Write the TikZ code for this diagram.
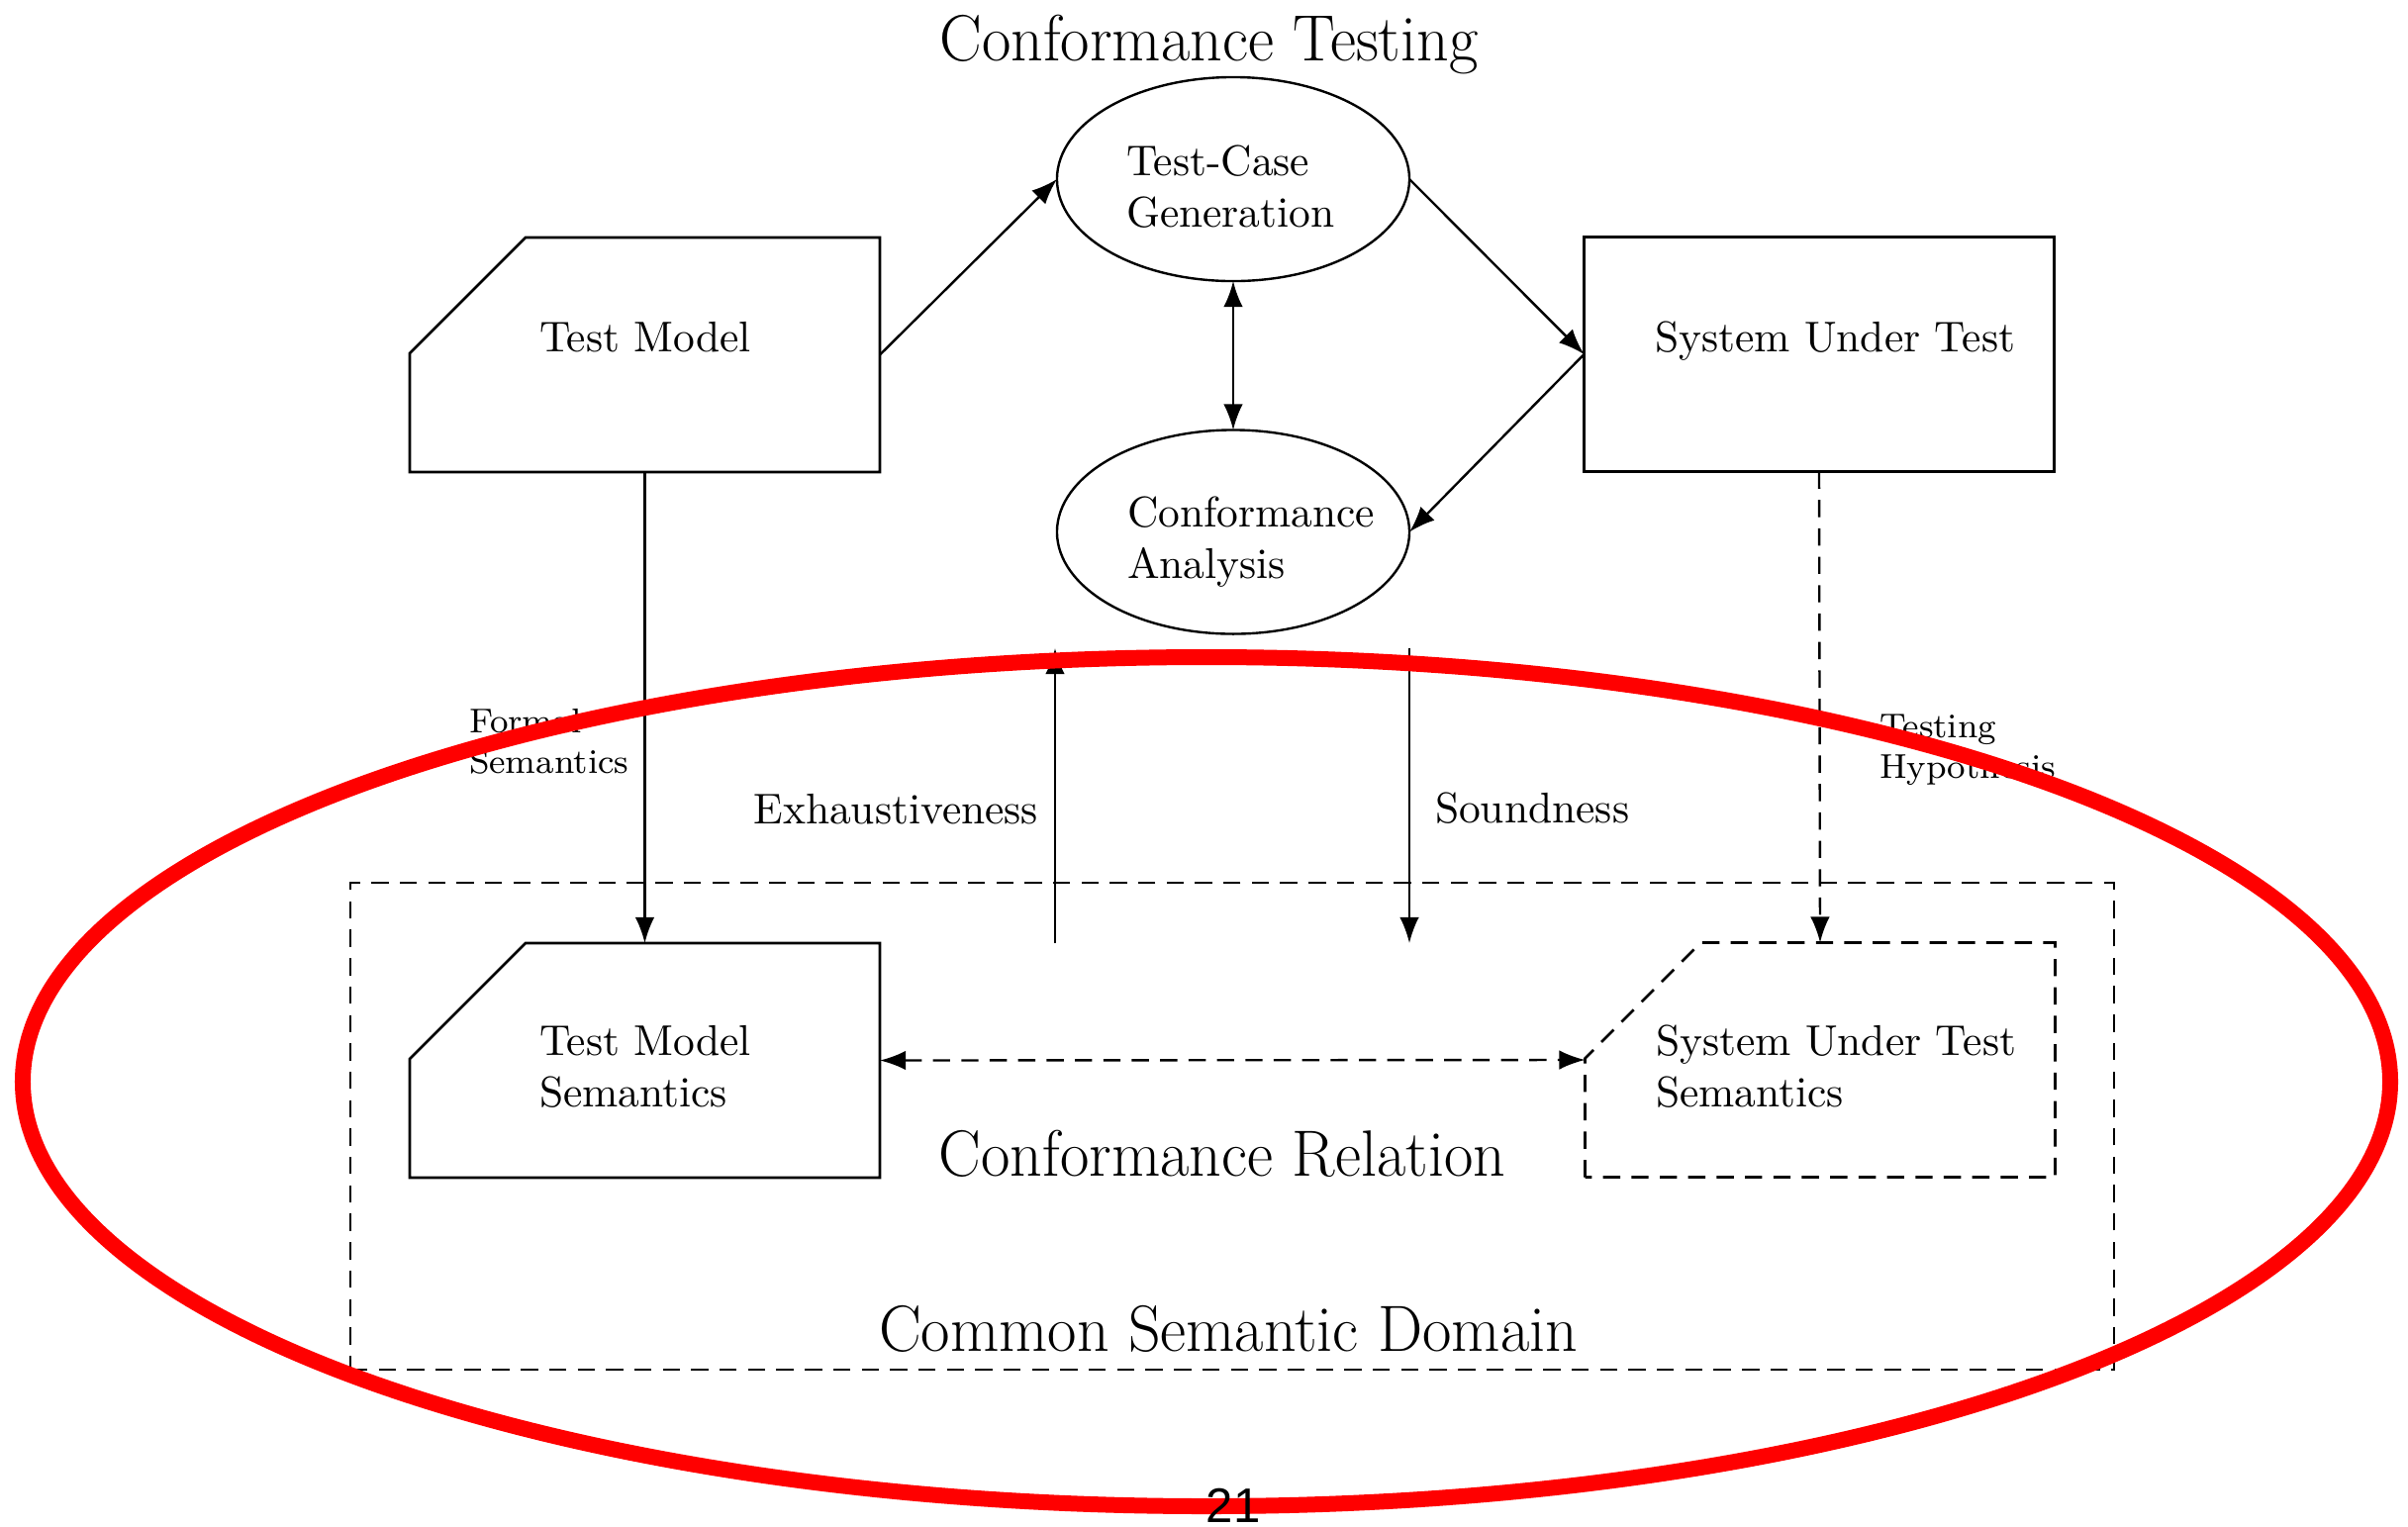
\documentclass[tikz,border=0pt]{standalone}
\usepackage{fontspec}
\usepackage{graphicx}
\newfontfamily\pagenumfont{Liberation Sans}
\usetikzlibrary{arrows.meta,shapes.geometric}

% two stacked lines, baseline at the first one
\newcommand\twoline[2]{\begin{tabular}[t]{@{}l@{}}#1\\#2\end{tabular}}
% large captions, slightly condensed
\newcommand\bigcaption[1]{\scalebox{0.967}[1]{#1}}
% box with its upper left corner cut off
\newcommand\cutbox[2][]{\draw[boxline,#1] (#2.south west) -- ([yshift=-26.9pt]#2.north west)
  -- ([xshift=26.9pt]#2.north west) -- (#2.north east) -- (#2.south east) -- cycle;}

\begin{document}
\begin{tikzpicture}[x=0.23pt,y=-0.23pt,
  every node/.style={inner sep=0pt,outer sep=0pt},
  frame/.style={minimum width=109.25pt,minimum height=54.51pt},
  oval/.style={ellipse,draw,line width=0.55pt,minimum width=81.9pt,minimum height=47.4pt},
  boxline/.style={line width=0.6pt},
  dashpat/.style={dash pattern=on 4pt off 2.6pt},
  tip/.style={-{Latex[length=6pt,width=4.5pt]}},
  conn/.style={line width=0.55pt,tip},
  biconn/.style={line width=0.55pt,{Latex[length=6pt,width=4.5pt]}-{Latex[length=6pt,width=4.5pt]}},
  nodetext/.style={anchor=base west,font=\fontsize{10}{12}\selectfont},
  smalltext/.style={anchor=base west,font=\fontsize{8}{9.6}\selectfont},
  bigtext/.style={anchor=base,font=\fontsize{15.2}{18}\selectfont},
]
\useasboundingbox (0,0) rectangle (2433,1542);

% ---- upper part: testing activities ----
\node[bigtext] (title) at (1221.5,61) {\bigcaption{Conformance Testing}};

\node[frame] (tm) at (651.5,358.5) {};
\cutbox{tm}
\node[nodetext] (tmT) at (545,355) {Test Model};

\node[frame,draw,boxline] (sut) at (1838,358) {};
\node[nodetext] (sutT) at (1672,355) {System Under Test};

\node[oval] (tcg) at (1246,181) {};
\node[nodetext] (tcgT) at (1138,177) {\twoline{Test-Case}{Generation}};

\node[oval] (ca) at (1246,537.5) {};
\node[nodetext] (caT) at (1139,532) {\twoline{Conformance}{Analysis}};

% ---- lower part: semantic domain ----
\node[draw,boxline,dashpat,minimum width=409.86pt,minimum height=113.16pt] (dom) at (1245,1138) {};

\node[frame] (tms) at (651.5,1071.5) {};
\cutbox{tms}
\node[nodetext] (tmsT) at (545,1066) {\twoline{Test Model}{Semantics}};

\node[frame] (suts) at (1839,1071) {};
\cutbox[dashpat]{suts}
\node[nodetext] (sutsT) at (1673,1066) {\twoline{System Under Test}{Semantics}};

\node[bigtext] (rel) at (1235,1188) {\bigcaption{Conformance Relation}};
\node[bigtext] (domT) at (1241,1365) {\bigcaption{Common Semantic Domain}};

% ---- connectors ----
\draw[conn] (tm.east) -- (tcg.west);
\draw[conn] (tcg.east) -- (sut.west);
\draw[conn] (sut.west) -- (ca.east);
\draw[biconn] (tcg.south) -- (ca.north);
\draw[conn] (tm.south) -- (tms.north);
\draw[conn,dashpat] (sut.south) -- (suts.north);
\draw[biconn,dashpat] (tms.east) -- (suts.west);

\coordinate (exLow) at (1066,953);
\coordinate (exHigh) at (1066,655);
\coordinate (soHigh) at (1424,655);
\coordinate (soLow) at (1424,953);
\draw[conn] (exLow) -- (exHigh);
\draw[conn] (soHigh) -- (soLow);

\node[smalltext] (formal) at (474,740) {\twoline{Formal}{Semantics}};
\node[smalltext] (hyp) at (1899,745) {\twoline{Testing}{Hypothesis}};
\node[nodetext,anchor=base east] (exh) at (1049,832) {Exhaustiveness};
\node[nodetext] (snd) at (1450,831) {Soundness};

% ---- highlight ring and page number ----
\draw[red,line width=3.68pt] (1219,1093) ellipse [x radius=275.08pt,y radius=98.67pt];
\node[anchor=base,font=\pagenumfont\fontsize{11.3}{13}\selectfont] (pg) at (1246,1538) {21};
\end{tikzpicture}
\end{document}
